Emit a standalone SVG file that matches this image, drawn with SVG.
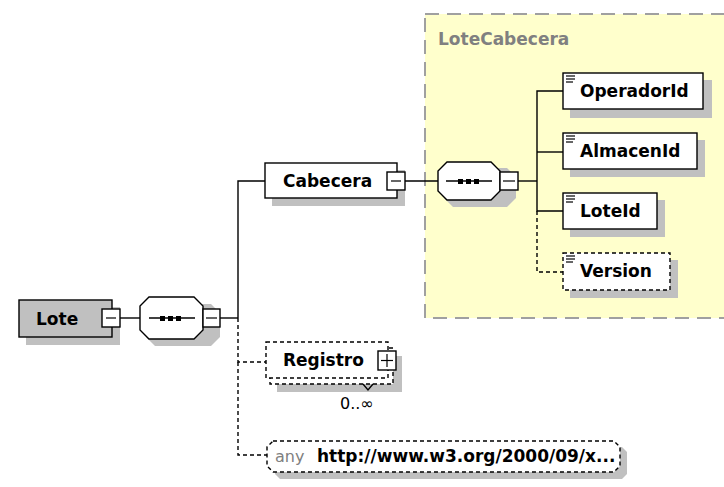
<svg xmlns="http://www.w3.org/2000/svg" width="724" height="487" viewBox="0 0 724 487">
<defs>
<style>
.shadow{fill:#c0c0c0;stroke:none}
.box{fill:#fff;stroke:#000;stroke-width:1.4}
.dbox{fill:#fff;stroke:#000;stroke-width:1.4;stroke-dasharray:4,3}
.name{font-family:"DejaVu Sans",sans-serif;font-weight:bold;font-size:17px;fill:#000}
.line{fill:none;stroke:#000;stroke-width:1.4}
.dline{fill:none;stroke:#000;stroke-width:1.4;stroke-dasharray:4,3}
.icon{stroke:#000;stroke-width:1.2}
</style>
</defs>
<rect width="724" height="487" fill="#fff"/>

<g id="LoteCabecera">
<rect x="425" y="14" width="310" height="304" fill="#ffffcc" stroke="#a0a0a0" stroke-width="2" stroke-dasharray="14,8"/>
<text x="438" y="45" font-family="DejaVu Sans, sans-serif" font-weight="bold" font-size="17" fill="#808080">LoteCabecera</text>
</g>

<g id="connectors">
<line class="line" x1="120" y1="318" x2="140" y2="318"/>
<line class="line" x1="220" y1="318" x2="238" y2="318"/>
<polyline class="line" points="238,318 238,181 265,181"/>
<polyline class="dline" points="238,318 238,362 266,362"/>
<polyline class="dline" points="238,362 238,455 267,455"/>
<line class="line" x1="405" y1="181" x2="438" y2="181"/>
<line class="line" x1="518" y1="181" x2="537" y2="181"/>
<polyline class="line" points="563,91 537,91 537,211 563,211"/>
<line class="line" x1="537" y1="152" x2="563" y2="152"/>
<polyline class="dline" points="537,211 537,272 563,272"/>
</g>

<g id="Lote">
<rect class="shadow" x="26" y="307" width="94" height="38"/>
<rect x="19" y="300" width="93" height="37" fill="#c0c0c0" stroke="#000" stroke-width="1.4"/>
<text class="name" x="36" y="325">Lote</text>
<rect class="box" x="102" y="309" width="18" height="18"/>
<line class="icon" x1="106" y1="318" x2="116" y2="318"/>
</g>

<g id="seq1">
<path class="shadow" d="M155,304 H211 L220,313 V337 L211,346 H155 L146,337 V313 Z"/>
<path class="box" d="M149,297 H194 L203,306 V330 L194,339 H149 L140,330 V306 Z"/>
<line class="line" x1="149" y1="318" x2="195" y2="318"/>
<rect x="160" y="316" width="5" height="5" fill="#000"/>
<rect x="168" y="316" width="5" height="5" fill="#000"/>
<rect x="176" y="316" width="5" height="5" fill="#000"/>
<rect class="box" x="203" y="309" width="17" height="18"/>
<line class="icon" x1="206" y1="318" x2="217" y2="318"/>
</g>

<g id="Cabecera">
<rect class="shadow" x="272" y="170" width="133" height="36"/>
<rect class="box" x="265" y="163" width="132" height="35"/>
<text class="name" x="283" y="187">Cabecera</text>
<rect class="box" x="387" y="172" width="18" height="18"/>
<line class="icon" x1="391" y1="181" x2="401" y2="181"/>
</g>

<g id="seq2">
<path class="shadow" d="M453,168 H507 L516,177 V198 L507,207 H453 L444,198 V177 Z"/>
<path class="box" d="M447,162 H491 L500,171 V191 L491,200 H447 L438,191 V171 Z"/>
<line class="line" x1="446" y1="181" x2="492" y2="181"/>
<rect x="458" y="179" width="5" height="5" fill="#000"/>
<rect x="466" y="179" width="5" height="5" fill="#000"/>
<rect x="474" y="179" width="5" height="5" fill="#000"/>
<rect class="box" x="500" y="172" width="18" height="18"/>
<line class="icon" x1="503" y1="181" x2="515" y2="181"/>
</g>

<g id="OperadorId">
<rect class="shadow" x="570" y="80" width="142" height="38"/>
<rect class="box" x="563" y="73" width="140" height="36"/>
<line class="icon" x1="566" y1="76" x2="575" y2="76"/>
<line class="icon" x1="566" y1="79" x2="575" y2="79"/>
<line class="icon" x1="566" y1="82" x2="573" y2="82"/>
<text class="name" x="580" y="97">OperadorId</text>
</g>

<g id="AlmacenId">
<rect class="shadow" x="570" y="140" width="135" height="37"/>
<rect class="box" x="563" y="133" width="134" height="36"/>
<line class="icon" x1="566" y1="136" x2="575" y2="136"/>
<line class="icon" x1="566" y1="139" x2="575" y2="139"/>
<line class="icon" x1="566" y1="142" x2="573" y2="142"/>
<text class="name" x="580" y="157">AlmacenId</text>
</g>

<g id="LoteId">
<rect class="shadow" x="570" y="200" width="95" height="37"/>
<rect class="box" x="563" y="193" width="94" height="36"/>
<line class="icon" x1="566" y1="196" x2="575" y2="196"/>
<line class="icon" x1="566" y1="199" x2="575" y2="199"/>
<line class="icon" x1="566" y1="202" x2="573" y2="202"/>
<text class="name" x="580" y="217">LoteId</text>
</g>

<g id="Version">
<rect class="shadow" x="570" y="260" width="108" height="38"/>
<rect class="dbox" x="563" y="253" width="107" height="37"/>
<line class="icon" x1="566" y1="256" x2="575" y2="256"/>
<line class="icon" x1="566" y1="259" x2="575" y2="259"/>
<line class="icon" x1="566" y1="262" x2="573" y2="262"/>
<text class="name" x="580" y="277">Version</text>
</g>

<g id="Registro">
<rect class="shadow" x="277" y="356" width="125" height="36"/>
<rect class="dbox" x="270" y="348" width="123" height="36"/>
<rect class="dbox" x="266" y="342" width="122" height="36"/>
<polyline class="line" points="363,384 368,390 373,384" stroke-width="1.2"/>
<text class="name" x="283" y="366">Registro</text>
<rect class="box" x="378" y="351" width="18" height="19"/>
<line class="icon" x1="381" y1="360.5" x2="393" y2="360.5"/>
<line class="icon" x1="387" y1="354" x2="387" y2="367"/>
<text x="340" y="409" font-family="DejaVu Sans, sans-serif" font-size="16" fill="#000">0..∞</text>
</g>

<g id="any">
<path class="shadow" d="M280,447 H622 L627,452 V474 L622,479 H280 L275,474 V452 Z"/>
<path class="dbox" d="M273,441 H614 L620,447 V466 L614,472 H273 L267,466 V447 Z"/>
<text x="275" y="462" font-family="DejaVu Sans, sans-serif" font-size="16" fill="#808080">any</text>
<text class="name" x="317" y="462" font-size="16.5">http://www.w3.org/2000/09/x...</text>
</g>
</svg>
